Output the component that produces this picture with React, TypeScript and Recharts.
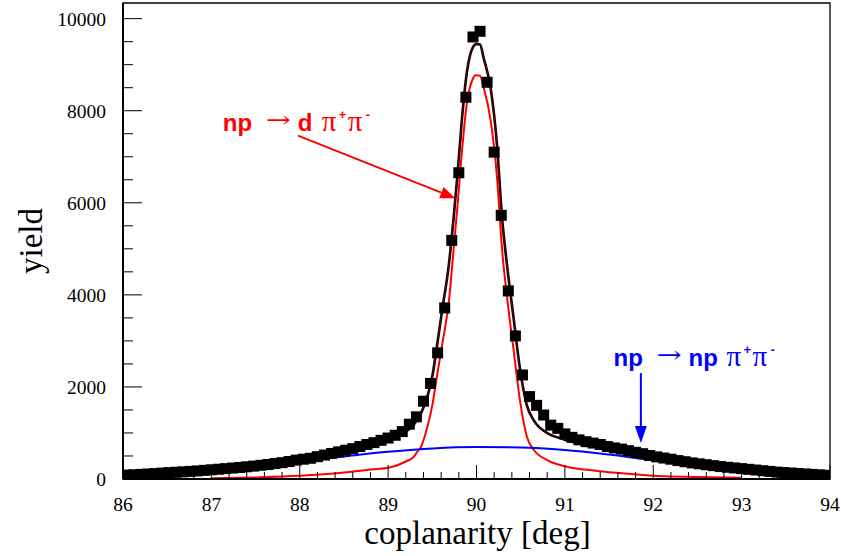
import React from "react";
import {
  ComposedChart,
  Line,
  Scatter,
  XAxis,
  YAxis,
  ReferenceArea,
  ReferenceDot,
  ReferenceLine,
  Label,
} from "recharts";

// measured yield per 0.08 deg bin, 86 -> 94 deg
const yieldCounts = [
  85, 92, 100, 108, 118, 128, 138, 146, 155, 165,
  175, 188, 200, 212, 225, 238, 250, 265, 280, 298,
  315, 335, 355, 380, 410, 430, 450, 485, 520, 555,
  590, 625, 660, 705, 750, 790, 840, 890, 950, 1030,
  1190, 1350, 1690, 2076, 2740, 3716, 5184, 6653, 8293, 9602,
  9725, 8618, 7100, 5727, 4085, 3108, 2260, 1790, 1600, 1390,
  1170, 1100, 980, 905, 850, 810, 780, 750, 705, 675,
  650, 615, 580, 550, 510, 480, 455, 430, 400, 375,
  350, 330, 310, 290, 270, 255, 240, 225, 210, 195,
  180, 165, 150, 140, 130, 120, 110, 100, 90, 80,
];
const binLow = 86;
const binWidth = 0.08;

// total fit
const fitX = [
  86.0, 86.5, 87.0, 87.5, 87.89, 88.08, 88.46, 88.84, 89.03, 89.18,
  89.29, 89.37, 89.44, 89.5, 89.55, 89.61, 89.69, 89.74, 89.79, 89.83,
  89.89, 89.96, 90.0, 90.04, 90.08, 90.16, 90.23, 90.29, 90.35, 90.42,
  90.49, 90.57, 90.65, 90.8, 90.99, 91.36, 91.74, 92.08, 92.5, 93.0,
  93.5, 94.0,
];
const fitY = [
  90, 155, 230, 330, 449, 520, 666, 809, 870, 1000,
  1180, 1420, 1760, 2230, 2850, 3650, 4700, 5650, 6720, 7700,
  8820, 9380, 9450, 9440, 9150, 8490, 7300, 5660, 4570, 3490,
  2420, 1600, 1270, 1000, 860, 700, 575, 450, 360, 250,
  165, 90,
];

// np -> d pi+ pi-
const dX = [
  87.0, 87.5, 88.0, 88.5, 88.76, 89.03, 89.2, 89.29, 89.33, 89.37,
  89.44, 89.5, 89.55, 89.61, 89.69, 89.74, 89.79, 89.83, 89.89, 89.96,
  89.99, 90.04, 90.08, 90.16, 90.23, 90.29, 90.35, 90.42, 90.49, 90.57,
  90.65, 90.8, 90.99, 91.37, 91.75, 92.05, 92.5, 93.0,
];
const dY = [
  15, 35, 70, 140, 195, 254, 380, 480, 592, 690,
  1100, 1600, 2200, 2900, 3900, 4970, 6050, 7000, 8150, 8700,
  8770, 8760, 8510, 7790, 6600, 4970, 3880, 2800, 1730, 920,
  630, 412, 282, 174, 108, 65, 45, 28,
];

// np -> np pi+ pi-
const npX = [86, 86.5, 87, 87.5, 88, 88.5, 89, 89.5, 90, 90.5, 91, 91.5, 92, 92.5, 93, 93.5, 94];
const npY = [88, 150, 215, 295, 385, 490, 590, 665, 695, 685, 630, 530, 410, 320, 235, 160, 88];

const xMajor = [86, 87, 88, 89, 90, 91, 92, 93, 94];
const yMajor = [0, 2000, 4000, 6000, 8000, 10000];
const yTop = 10340;

const histData = yieldCounts.map((y, i) => ({ x: binLow + binWidth * (i + 0.5), y }));
const zip = (xs: number[], ys: number[]) => xs.map((x, i) => ({ x, y: ys[i] }));
const fitData = zip(fitX, fitY);
const dData = zip(dX, dY);
const npData = zip(npX, npY);

const xTicks: number[] = [];
for (let i = 0; i <= 40; i++) xTicks.push(+(86 + i * 0.2).toFixed(1));
const yTicks: number[] = [];
for (let v = 0; v <= 10000; v += 500) yTicks.push(v);

const serif = "'Liberation Serif', 'Times New Roman', serif";
const sans = "'Liberation Sans', Arial, sans-serif";

function XTick({ x, y, payload }: any) {
  const v = payload.value;
  const major = xMajor.includes(v);
  return (
    <g>
      <line x1={x} x2={x} y1={y} y2={y - (major ? 14 : 7)} stroke="#000" strokeWidth={1} />
      {major && (
        <text x={x} y={y + 32} textAnchor="middle" fontFamily={serif} fontSize={19.5} fill="#000">
          {v}
        </text>
      )}
    </g>
  );
}

function YTick({ x, y, payload }: any) {
  const v = payload.value;
  const major = yMajor.includes(v);
  return (
    <g>
      <line x1={x} x2={x + (major ? 19 : 10)} y1={y} y2={y} stroke="#000" strokeWidth={1} />
      {major && (
        <text x={x - 17} y={y + 7} textAnchor="end" fontFamily={serif} fontSize={19.5} fill="#000">
          {v}
        </text>
      )}
    </g>
  );
}

function Square({ cx, cy }: any) {
  return <rect x={cx - 5.5} y={cy - 5.5} width={11} height={11} fill="#000" />;
}

function Arrow({ x1, y1, x2, y2, color, head, half }: any) {
  const dx = x2 - x1;
  const dy = y2 - y1;
  const len = Math.hypot(dx, dy);
  const ux = dx / len;
  const uy = dy / len;
  const bx = x2 - ux * head;
  const by = y2 - uy * head;
  const pts = `${x2},${y2} ${bx - uy * half},${by + ux * half} ${bx + uy * half},${by - ux * half}`;
  return (
    <g>
      <line x1={x1} y1={y1} x2={bx} y2={by} stroke={color} strokeWidth={2} />
      <polygon points={pts} fill={color} />
    </g>
  );
}

function arrowShape(color: string, head: number, half: number) {
  return (p: any) => {
    const s = p.segment ?? [];
    const x1 = p.x1 ?? s[0]?.x;
    const y1 = p.y1 ?? s[0]?.y;
    const x2 = p.x2 ?? s[1]?.x;
    const y2 = p.y2 ?? s[1]?.y;
    return <Arrow x1={x1} y1={y1} x2={x2} y2={y2} color={color} head={head} half={half} />;
  };
}

function Reaction({ cx, cy, color, product }: any) {
  const big = 24;
  const sup = 13;
  const off = product === "d" ? 0 : 14;
  return (
    <g fill={color}>
      <text x={cx} y={cy} fontFamily={sans} fontWeight="bold" fontSize={big}>np</text>
      <text x={cx + 43} y={cy - 1} fontFamily="'DejaVu Serif', serif" fontSize={30} transform={`scale(1,0.8)`} style={{ transformBox: "fill-box", transformOrigin: "center" }}>→</text>
      <text x={cx + 75} y={cy} fontFamily={sans} fontWeight="bold" fontSize={big}>{product}</text>
      <text x={cx + 99 + off} y={cy} fontFamily={serif} fontSize={29}>π</text>
      <text x={cx + 116 + off} y={cy - 12} fontFamily={sans} fontWeight="bold" fontSize={sup}>+</text>
      <text x={cx + 125 + off} y={cy} fontFamily={serif} fontSize={29}>π</text>
      <text x={cx + 143 + off} y={cy - 12} fontFamily={sans} fontWeight="bold" fontSize={sup}>-</text>
    </g>
  );
}

export default function App() {
  return (
    <div style={{ position: "absolute", left: 0, top: 0, background: "#fff" }}>
      <ComposedChart width={841} height={556} margin={{ top: 3, right: 11, bottom: 0, left: 0 }}>
        <XAxis
          type="number"
          dataKey="x"
          domain={[86, 94]}
          ticks={xTicks}
          interval={0}
          tickSize={0}
          tickMargin={0}
          tick={<XTick />}
          height={77}
          axisLine={{ stroke: "#000", strokeWidth: 2 }}
          allowDataOverflow
        >
          <Label
            content={(p: any) => {
              const vb = p.viewBox;
              return (
                <text x={vb.x + vb.width / 2 + 1} y={vb.y + 65} textAnchor="middle" fontFamily={serif} fontSize={33} fill="#000">
                  coplanarity [deg]
                </text>
              );
            }}
          />
        </XAxis>
        <YAxis
          type="number"
          dataKey="y"
          domain={[0, yTop]}
          ticks={yTicks}
          interval={0}
          tickSize={0}
          tickMargin={0}
          tick={<YTick />}
          width={123}
          axisLine={{ stroke: "#000", strokeWidth: 2 }}
          allowDataOverflow
        >
          <Label
            content={(p: any) => {
              const vb = p.viewBox;
              const cy = vb.y + vb.height / 2;
              return (
                <text x={42} y={cy} transform={`rotate(-90, 42, ${cy})`} textAnchor="middle" fontFamily={serif} fontSize={33} fill="#000">
                  yield
                </text>
              );
            }}
          />
        </YAxis>
        <ReferenceArea x1={86} x2={94} y1={0} y2={yTop} fill="none" stroke="#000" strokeWidth={1.3} ifOverflow="visible" />
        <Scatter data={histData} dataKey="y" shape={<Square />} isAnimationActive={false} />
        <Line data={fitData} dataKey="y" type="monotone" stroke="#000" strokeWidth={2.6} dot={false} activeDot={false} isAnimationActive={false} />
        <Line data={fitData} dataKey="y" type="monotone" stroke="#b00000" strokeWidth={0.6} dot={false} activeDot={false} isAnimationActive={false} />
        <Line data={dData} dataKey="y" type="monotone" stroke="#ff0000" strokeWidth={2} dot={false} activeDot={false} isAnimationActive={false} />
        <Line data={npData} dataKey="y" type="monotone" stroke="#0000ff" strokeWidth={2} dot={false} activeDot={false} isAnimationActive={false} />
        <ReferenceLine
          segment={[{ x: 87.98, y: 7460 }, { x: 89.76, y: 6100 }]}
          shape={arrowShape("#ff0000", 15, 6)}
          ifOverflow="visible"
        />
        <ReferenceLine
          segment={[{ x: 91.86, y: 2300 }, { x: 91.86, y: 780 }]}
          shape={arrowShape("#0000ff", 17, 6)}
          ifOverflow="visible"
        />
        <ReferenceDot x={87.13} y={7560} r={0} ifOverflow="visible" shape={(p: any) => <Reaction cx={p.cx} cy={p.cy} color="#ff0000" product="d" />} />
        <ReferenceDot x={91.55} y={2460} r={0} ifOverflow="visible" shape={(p: any) => <Reaction cx={p.cx} cy={p.cy} color="#0000ff" product="np" />} />
      </ComposedChart>
    </div>
  );
}
